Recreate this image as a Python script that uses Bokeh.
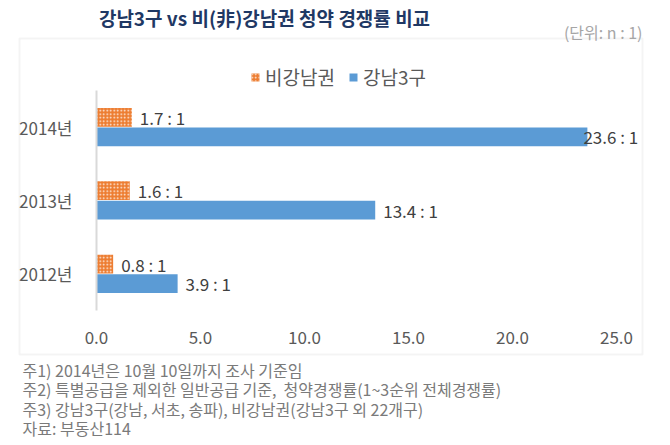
from bokeh.plotting import figure
from bokeh.models import (ColumnDataSource, Range1d, Legend, LegendItem,
                          LabelSet, Label, BoxAnnotation, FixedTicker, PrintfTickFormatter)
from bokeh.core.properties import value
from bokeh.embed import file_html
from bokeh.resources import INLINE

# ---- data ----
years = ["2012년", "2013년", "2014년"]
gangnam3 = [3.9, 13.4, 23.6]
non_gangnam = [0.8, 1.6, 1.7]
series_names = ["비강남권", "강남3구"]
x_ticks = [0, 5, 10, 15, 20, 25]
title_text = "강남3구 vs 비(非)강남권 청약 경쟁률 비교"
unit_text = "(단위: n : 1)"
notes = [
    "주1) 2014년은 10월 10일까지 조사 기준임",
    "주2) 특별공급을 제외한 일반공급 기준,\u00a0\u00a0청약경쟁률(1~3순위 전체경쟁률)",
    "주3) 강남3구(강남, 서초, 송파), 비강남권(강남3구 외 22개구)",
    "자료: 부동산114",
]

FONT = "Noto Sans CJK KR"
ORANGE = "#ED7D31"
BLUE = "#5B9BD5"

W, H = 670, 445
# pixel geometry (px from top-left of the page)
X0_PX, XPX_PER = 96, 20.8           # x=0 at 96px, 20.8 px per unit
CAT0_PX, CAT_PX = 273.3, 73.33      # first category centre, band size

idx = list(range(len(years)))
off = 0.133
bh = 0.255

src = ColumnDataSource(dict(
    y_ng=[i + off for i in idx],
    y_g3=[i - off for i in idx],
    g3=gangnam3,
    ng=non_gangnam,
    g3_lbl=[f"{v:.1f} : 1" for v in gangnam3],
    ng_lbl=[f"{v:.1f} : 1" for v in non_gangnam],
    g3_off=[8 if v < 22 else -4 for v in gangnam3],
))

x_start = -X0_PX / XPX_PER
x_end = (W - X0_PX) / XPX_PER
y_end = CAT0_PX / CAT_PX
y_start = (CAT0_PX - H) / CAT_PX

p = figure(width=W, height=H, output_backend="svg", toolbar_location=None,
           x_range=Range1d(x_start, x_end), y_range=Range1d(y_start, y_end),
           min_border=0, title=None)
p.outline_line_color = None
p.background_fill_color = "white"
p.border_fill_color = "white"
p.xgrid.grid_line_color = None
p.ygrid.grid_line_color = None

r_ng = p.hbar(y="y_ng", right="ng", left=0, height=bh, source=src,
              fill_color=ORANGE, line_color=None,
              hatch_pattern="dot", hatch_color="white", hatch_scale=3.5, hatch_weight=0.6,
              hatch_alpha=0.9)
r_g3 = p.hbar(y="y_g3", right="g3", left=0, height=bh, source=src,
              fill_color=BLUE, line_color=None)

lbl_style = dict(text_font_size="17px", text_color="#404040", text_baseline="middle",
                 text_align="left", text_font=value(FONT))
p.add_layout(LabelSet(x="ng", y="y_ng", text="ng_lbl", x_offset=8, source=src, **lbl_style))
p.add_layout(LabelSet(x="g3", y="y_g3", text="g3_lbl", x_offset="g3_off", source=src, **lbl_style))

# axes (drawn inside the full-size frame)
p.xaxis.fixed_location = -0.5
p.xaxis.ticker = FixedTicker(ticks=x_ticks)
p.xaxis.formatter = PrintfTickFormatter(format="%.1f")
p.xaxis.axis_line_color = None
p.xaxis.major_tick_line_color = None
p.xaxis.minor_tick_line_color = None
p.xaxis.major_label_standoff = 15
p.xaxis.major_label_text_font_size = "17px"
p.xaxis.major_label_text_color = "#595959"
p.xaxis.major_label_text_font = FONT

p.yaxis.fixed_location = 0
p.yaxis.bounds = (-0.5, len(years) - 0.5)
p.yaxis.ticker = FixedTicker(ticks=idx)
p.yaxis.major_label_overrides = {i: y for i, y in zip(idx, years)}
p.yaxis.axis_line_color = "#d9d9d9"
p.yaxis.axis_line_width = 2
p.yaxis.major_tick_line_color = None
p.yaxis.minor_tick_line_color = None
p.yaxis.major_label_standoff = 18
p.yaxis.major_label_text_font_size = "17px"
p.yaxis.major_label_text_color = "#595959"
p.yaxis.major_label_text_font = FONT

# legend
legend = Legend(items=[LegendItem(label=series_names[0], renderers=[r_ng]),
                       LegendItem(label=series_names[1], renderers=[r_g3])],
                orientation="horizontal", location=(250, H - 90),
                glyph_width=10, glyph_height=10, label_standoff=5, spacing=13,
                padding=0, margin=0, border_line_color=None, background_fill_alpha=0,
                label_text_font_size="19px", label_text_color="#595959",
                label_text_font=FONT)
p.add_layout(legend, "center")

# outer chart box
p.add_layout(BoxAnnotation(left=19, right=642, top=H - 38, bottom=H - 354,
                           left_units="screen", right_units="screen",
                           top_units="screen", bottom_units="screen",
                           fill_alpha=0, line_color="#d9d9d9", line_width=2))

# title and unit
p.add_layout(Label(x=264, y=H - 17, x_units="screen", y_units="screen",
                   text=title_text, text_font=FONT, text_font_style="bold",
                   text_font_size="19px", text_color="#1F3864",
                   text_align="center", text_baseline="middle"))
p.add_layout(Label(x=642, y=H - 31, x_units="screen", y_units="screen",
                   text=unit_text, text_font=FONT, text_font_size="16px",
                   text_color="#a6a6a6", text_align="right", text_baseline="middle"))

# notes
for i, t in enumerate(notes):
    p.add_layout(Label(x=22, y=H - (369 + i * 19.5), x_units="screen", y_units="screen",
                       text=t, text_font=FONT, text_font_size="16px",
                       text_color="#7a7a7a", text_align="left", text_baseline="middle"))

open("out.html", "w").write(file_html(p, INLINE))
